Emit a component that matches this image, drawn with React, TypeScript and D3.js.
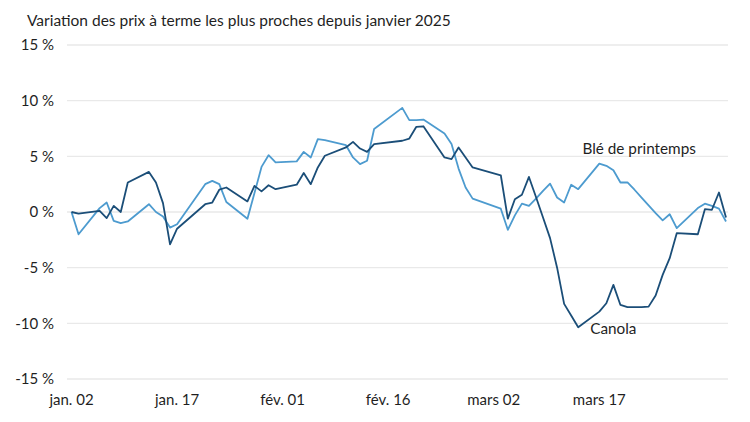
import React from "react";
import * as d3 from "d3";

const title = "Variation des prix à terme les plus proches depuis janvier 2025";

// day index counted from Jan 2, 2025
const days = [0,1,4,5,6,7,8,11,12,13,14,15,19,20,21,22,25,26,27,28,29,32,33,34,35,36,39,40,41,42,43,47,48,49,50,53,54,55,56,57,61,62,63,64,65,66,67,68,69,70,71,72,75,76,77,78,79,80,81,82,83,84,85,86,89,90,91,92,93];

const canola = [0,-0.15,0.1,-0.55,0.55,0.0,2.65,3.6,2.65,0.8,-2.9,-1.5,0.7,0.85,2.0,2.2,0.95,2.35,1.85,2.4,2.05,2.45,3.5,2.5,4.0,5.05,5.8,6.3,5.7,5.4,6.1,6.4,6.6,7.65,7.7,4.9,4.75,5.8,4.9,4.0,3.3,-0.6,1.15,1.55,3.15,1.35,-0.5,-2.35,-5.0,-8.25,-9.3,-10.35,-8.95,-8.2,-6.55,-8.35,-8.55,-8.55,-8.55,-8.5,-7.5,-5.65,-4.15,-1.9,-2.0,0.25,0.2,1.75,-0.5];

const springWheat = [0,-2.0,0.35,0.85,-0.8,-1.0,-0.85,0.7,0.0,-0.4,-1.4,-1.1,2.5,2.8,2.5,0.9,-0.6,1.7,4.05,5.1,4.45,4.55,5.4,4.9,6.55,6.45,6.0,4.9,4.3,4.6,7.45,9.35,8.25,8.25,8.3,7.05,6.1,3.9,2.2,1.2,0.3,-1.6,-0.3,0.75,0.55,1.2,1.9,2.55,1.3,0.85,2.45,2.05,4.35,4.15,3.75,2.65,2.65,2.0,1.3,0.6,-0.1,-0.75,-0.2,-1.45,0.35,0.75,0.55,0.3,-0.85];

const yTicks = [15, 10, 5, 0, -5, -10, -15];
const yTickLabels = ["15 %", "10 %", "5 %", "0 %", "-5 %", "-10 %", "-15 %"];
const xTickDays = [0, 15, 30, 45, 60, 75];
const xTickLabels = ["jan. 02", "jan. 17", "fév. 01", "fév. 16", "mars 02", "mars 17"];

const seriesNames = ["Blé de printemps", "Canola"];
const seriesLabelDay = [72.6, 73.7];
const seriesLabelValue = [5.25, -10.95];

const W = 750, H = 422;
const FONT = "Lato, 'Open Sans', sans-serif";
const TEXT = "#1f1f1f";
const C_CANOLA = "#1b4e78";
const C_WHEAT = "#4d9bcf";

export default function App() {
  const x = d3.scaleLinear().domain([0, 93]).range([71.5, 726]);
  const y = d3.scaleLinear().domain([-15, 15]).range([379, 45]);

  const line = d3
    .line<number>()
    .x((_, i) => x(days[i]))
    .y((v) => y(v));

  return (
    <svg
      width={W}
      height={H}
      style={{ position: "absolute", left: 0, top: 0, background: "#fff" }}
      fontFamily={FONT}
    >
      <text x={27} y={26} fontSize={15.5} fill={TEXT}>
        {title}
      </text>
      {yTicks.map((t, i) => (
        <g key={t}>
          <line x1={67} x2={728} y1={y(t)} y2={y(t)} stroke="#e9e9e9" strokeWidth={1.3} />
          <text x={54} y={y(t)} dy="0.35em" textAnchor="end" fontSize={15} fill={TEXT}>
            {yTickLabels[i]}
          </text>
        </g>
      ))}
      {xTickDays.map((d, i) => (
        <text key={d} x={x(d)} y={405} textAnchor="middle" fontSize={15} fill={TEXT}>
          {xTickLabels[i]}
        </text>
      ))}
      <path d={line(springWheat) || ""} fill="none" stroke={C_WHEAT} strokeWidth={1.8} strokeLinejoin="round" />
      <path d={line(canola) || ""} fill="none" stroke={C_CANOLA} strokeWidth={1.8} strokeLinejoin="round" />
      {seriesNames.map((n, i) => (
        <text key={n} x={x(seriesLabelDay[i])} y={y(seriesLabelValue[i])} fontSize={15.3} fill={TEXT}>
          {n}
        </text>
      ))}
    </svg>
  );
}
